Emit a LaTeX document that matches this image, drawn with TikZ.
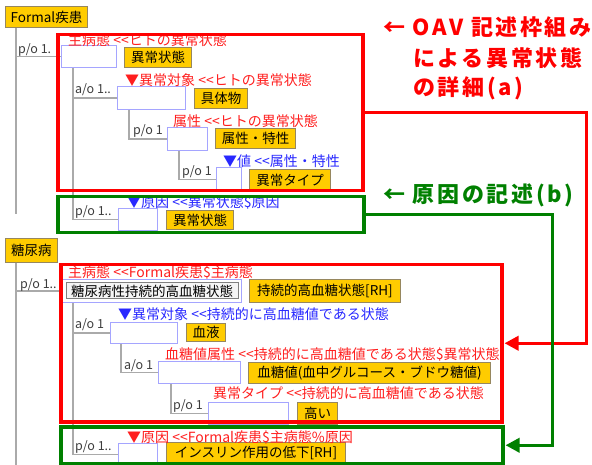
\documentclass[tikz,border=0pt]{standalone}
\usepackage{fontspec}
\setmainfont{Noto Sans CJK JP}[Ligatures=TeXOff]
\newfontfamily\bigjp{Noto Sans CJK JP}[LetterSpace=12,Ligatures=TeXOff]
\usetikzlibrary{arrows.meta}
\definecolor{gold}{RGB}{255,204,0}
\definecolor{goldline}{RGB}{150,135,95}
\definecolor{wbline}{RGB}{165,165,255}
\definecolor{treegray}{RGB}{170,170,170}
\definecolor{lblgray}{RGB}{60,60,60}
\definecolor{lblred}{RGB}{255,30,30}
\definecolor{lblblue}{RGB}{40,40,255}
\definecolor{frred}{RGB}{255,0,0}
\definecolor{frgreen}{RGB}{0,128,0}
\tikzset{
  every node/.style={font=\fontsize{13.5}{15}\selectfont},
  ybox/.style={draw=goldline,fill=gold,line width=1pt,anchor=north west,inner sep=0pt,text=black},
  wbox/.style={draw=wbline,fill=white,line width=1pt,anchor=north west,inner sep=0pt},
  ibox/.style={draw=gray,fill=white!96!black,line width=1pt,inner sep=0pt},
  tree/.style={draw=treegray,line width=1.5pt},
  glbl/.style={anchor=west,inner sep=0pt,text=lblgray,font=\fontsize{12.5}{14}\selectfont},
  rlbl/.style={anchor=west,inner sep=0pt,text=lblred,font=\fontsize{14}{15}\selectfont},
  blbl/.style={anchor=west,inner sep=0pt,text=lblblue,font=\fontsize{14}{15}\selectfont},
  rframe/.style={draw=frred,line width=3.5pt,anchor=north west,inner sep=0pt},
  gframe/.style={draw=frgreen,line width=3.5pt,anchor=north west,inner sep=0pt},
  rconn/.style={draw=frred,line width=3.5pt,-{Triangle[length=14pt,width=14pt]},shorten >=1pt},
  gconn/.style={draw=frgreen,line width=3.5pt,-{Triangle[length=14pt,width=14pt]},shorten >=1pt},
  bigtxt/.style={anchor=west,inner sep=0pt,font=\bigjp\bfseries\fontsize{22}{26}\selectfont},
}
\begin{document}
\begin{tikzpicture}[x=1pt,y=-1pt]
\useasboundingbox (0,0) rectangle (592,465);
% ---------- top tree boxes ----------
\node[ybox,minimum width=82,minimum height=21] (formal) at (5,6) {Formal疾患};
\node[wbox,minimum width=55,minimum height=22] (wb1) at (61,45) {};
\node[wbox,minimum width=68,minimum height=23] (wb2) at (117,86) {};
\node[wbox,minimum width=40,minimum height=23] (wb3) at (167,127) {};
\node[wbox,minimum width=25,minimum height=24] (wb4) at (216,167) {};
\node[wbox,minimum width=39,minimum height=22] (wb5) at (118,208) {};
% tree lines top
\draw[tree] ([xshift=11]formal.south west) -- ++(0,186);
\draw[tree] ([xshift=11]formal.south west) |- (wb1.west);
\draw[tree] ([xshift=12]wb1.south west) |- (wb2.west);
\draw[tree] ([xshift=12]wb1.south west) |- (wb5.west);
\draw[tree] ([xshift=12]wb2.south west) |- (wb3.west);
\draw[tree] ([xshift=12]wb3.south west) |- (wb4.west);
\node[ybox,minimum width=67,minimum height=20] (y1) at (124,47) {異常状態};
\node[ybox,minimum width=53,minimum height=20] (y2) at (194,88) {具体物};
\node[ybox,minimum width=80,minimum height=20] (y3) at (215,128) {属性・特性};
\node[ybox,minimum width=81,minimum height=21] (y4) at (249,169) {異常タイプ};
\node[ybox,minimum width=67,minimum height=19] (y5) at (166,210) {異常状態};
% labels top
\node[glbl] (tl1) at (18,50) {p/o 1.};
\node[rlbl] (tl2) at (68,40) {主病態 <<ヒトの異常状態};
\node[glbl] (tl3) at (75,90) {a/o 1..};
\node[rlbl] (tl4) at (125,80) {▼異常対象 <<ヒトの異常状態};
\node[rlbl] (tl5) at (173,121) {属性 <<ヒトの異常状態};
\node[glbl] (tl6) at (133,131) {p/o 1};
\node[blbl] (tl7) at (223,161) {▼値 <<属性・特性};
\node[glbl] (tl8) at (182,172) {p/o 1};
\node[blbl] (tl9) at (127,202) {▼原因 <<異常状態\$原因};
\node[glbl] (tl10) at (75,212) {p/o 1..};
% ---------- bottom tree boxes ----------
\node[ybox,minimum width=52,minimum height=24] (tonyo) at (5,238) {糖尿病};
\node[wbox,minimum width=179,minimum height=23] (wb6) at (62,279) {};
\node[wbox,minimum width=67,minimum height=21] (wb7) at (110,322) {};
\node[wbox,minimum width=82,minimum height=22] (wb8) at (158,361) {};
\node[wbox,minimum width=80,minimum height=22] (wb9) at (208,402) {};
\node[wbox,minimum width=39,minimum height=22] (wb10) at (118,443) {};
\draw[tree] ([xshift=11]tonyo.south west) -- ++(0,205);
\draw[tree] ([xshift=11]tonyo.south west) |- (wb6.west);
\draw[tree] ([xshift=11]wb6.south west) |- (wb7.west);
\draw[tree] ([xshift=11]wb6.south west) |- (wb10.west);
\draw[tree] ([xshift=11]wb7.south west) |- (wb8.west);
\draw[tree] ([xshift=13]wb8.south west) |- (wb9.west);
\node[ibox,minimum width=172,minimum height=16] (inb) at (wb6.center) {糖尿病性持続的高血糖状態};
\node[ybox,minimum width=151,minimum height=23] (y6) at (249,279) {持続的高血糖状態[RH]};
\node[ybox,minimum width=39,minimum height=18] (y7) at (186,323) {血液};
\node[ybox,minimum width=242,minimum height=21] (y8) at (248,362) {血糖値(血中グルコース・ブドウ糖値)};
\node[ybox,minimum width=40,minimum height=22] (y9) at (297,402) {高い};
\node[ybox,minimum width=179,minimum height=21] (y10) at (166,442) {インスリン作用の低下[RH]};
% labels bottom
\node[glbl] (bl1) at (20,285) {p/o 1..};
\node[rlbl] (bl2) at (68,272) {主病態 <<Formal疾患\$主病態};
\node[blbl] (bl3) at (118,314) {▼異常対象 <<持続的に高血糖値である状態};
\node[glbl] (bl4) at (75,325) {a/o 1};
\node[rlbl] (bl5) at (165,354) {血糖値属性 <<持続的に高血糖値である状態\$異常状態};
\node[glbl] (bl6) at (124,366) {a/o 1};
\node[rlbl] (bl7) at (213,393) {異常タイプ <<持続的に高血糖値である状態};
\node[glbl] (bl8) at (173,406) {p/o 1};
\node[rlbl] (bl9) at (127,437) {▼原因 <<Formal疾患\$主病態\%原因};
\node[glbl] (bl10) at (75,447) {p/o 1..};
% ---------- frames ----------
\node[rframe,minimum width=305,minimum height=156] (fa) at (56,33) {};
\node[gframe,minimum width=306,minimum height=36] (ga) at (56,195) {};
\node[rframe,minimum width=441,minimum height=157] (fb) at (59,263) {};
\node[gframe,minimum width=442,minimum height=37] (gb) at (59,425) {};
% ---------- connectors ----------
\draw[rconn] (fa.east) -- ++(222,0) |- (fb.east);
\draw[gconn] (ga.east) -- ++(187,0) |- (gb.east);
% ---------- annotations ----------
\node[bigtxt,text=frred] (bt1) at (383,27) {← OAV 記述枠組み};
\node[bigtxt,text=frred] (bt2) at (413,58) {による異常状態};
\node[bigtxt,text=frred] (bt3) at (413,88) {の詳細(a)};
\node[bigtxt,text=frgreen] (bt4) at (383,195) {← 原因の記述(b)};
\end{tikzpicture}
\end{document}
